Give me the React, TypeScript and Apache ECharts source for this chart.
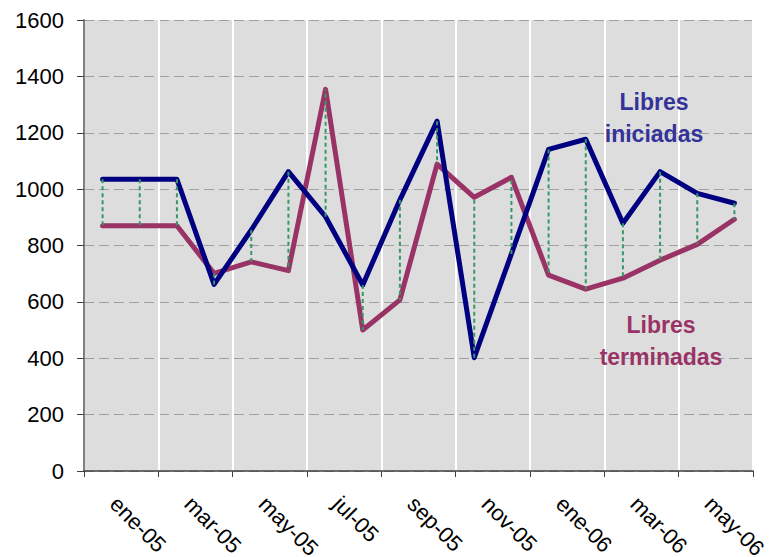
import React, { useEffect, useRef } from "react";
import * as echarts from "echarts";

const months = [
  "ene-05", "feb-05", "mar-05", "abr-05", "may-05", "jun-05", "jul-05", "ago-05", "sep-05",
  "oct-05", "nov-05", "dic-05", "ene-06", "feb-06", "mar-06", "abr-06", "may-06", "jun-06",
];
const iniciadas = [1035, 1035, 1035, 662, 855, 1062, 902, 660, 962, 1241, 402, 770, 1141, 1177, 879, 1062, 985, 950];
const terminadas = [870, 870, 870, 701, 742, 711, 1354, 500, 607, 1089, 971, 1042, 695, 645, 684, 748, 804, 893];
const yTicks = { min: 0, max: 1600, interval: 200 };
const labelIniciadas = "Libres\niniciadas";
const labelTerminadas = "Libres\nterminadas";

const FONT = "'Liberation Sans', Arial, sans-serif";

export default function App() {
  const ref = useRef<HTMLDivElement>(null);
  useEffect(() => {
    if (!ref.current) return;
    const chart = echarts.init(ref.current, undefined, { renderer: "svg" });
    const hiLo = months.map((_, i) => [i, iniciadas[i], terminadas[i]]);
    chart.setOption({
      animation: false,
      grid: {
        left: 84,
        right: 21,
        top: 20,
        bottom: 86,
        show: true,
        backgroundColor: "#DDDDDD",
        borderWidth: 0,
        containLabel: false,
        outerBoundsMode: "none",
      },
      xAxis: {
        type: "category",
        data: months,
        boundaryGap: true,
        axisLine: { lineStyle: { color: "#404040", width: 1.5 } },
        axisTick: { show: true, interval: 1, length: 6, lineStyle: { color: "#404040" } },
        axisLabel: {
          interval: 1,
          rotate: -45,
          margin: 18,
          padding: [0, 0, 0, 16],
          fontSize: 22,
          fontFamily: FONT,
          color: "#000000",
        },
        splitLine: { show: true, interval: 1, lineStyle: { color: "#FFFFFF", width: 2 } },
      },
      yAxis: {
        type: "value",
        min: yTicks.min,
        max: yTicks.max,
        interval: yTicks.interval,
        axisLine: { show: true, lineStyle: { color: "#808080", width: 2 } },
        axisTick: { show: true, length: 7, lineStyle: { color: "#404040" } },
        axisLabel: {
          fontSize: 22,
          fontFamily: FONT,
          color: "#000000",
          margin: 20,
          formatter: (v: number) => String(v),
        },
        splitLine: { show: true, lineStyle: { color: "#A0A0A0", width: 1, type: [10, 5] } },
      },
      series: [
        {
          name: "Libres iniciadas",
          type: "line",
          data: iniciadas,
          symbol: "none",
          lineStyle: { color: "#000080", width: 5, cap: "round", join: "round" },
          z: 3,
        },
        {
          name: "Libres terminadas",
          type: "line",
          data: terminadas,
          symbol: "none",
          lineStyle: { color: "#993366", width: 5, cap: "round", join: "round" },
          z: 2,
        },
        {
          name: "hilo",
          type: "custom",
          data: hiLo,
          z: 5,
          renderItem: (_params: any, api: any) => {
            const p1 = api.coord([api.value(0), api.value(1)]);
            const p2 = api.coord([api.value(0), api.value(2)]);
            return {
              type: "line",
              shape: { x1: p1[0], y1: p1[1], x2: p2[0], y2: p2[1] },
              style: { stroke: "#339966", lineWidth: 2, lineDash: [4, 3] },
            };
          },
        },
      ],
      graphic: [
        {
          type: "text",
          x: 654,
          y: 86,
          style: {
            text: labelIniciadas,
            fill: "#333399",
            font: `bold 23px ${FONT}`,
            align: "center",
            verticalAlign: "top",
            lineHeight: 32,
          },
          z: 10,
        },
        {
          type: "text",
          x: 661,
          y: 309,
          style: {
            text: labelTerminadas,
            fill: "#993366",
            font: `bold 23px ${FONT}`,
            align: "center",
            verticalAlign: "top",
            lineHeight: 32,
          },
          z: 10,
        },
      ],
    });
    return () => chart.dispose();
  }, []);
  return (
    <div
      ref={ref}
      style={{ position: "absolute", left: 0, top: 0, width: 774, height: 557 }}
    />
  );
}
